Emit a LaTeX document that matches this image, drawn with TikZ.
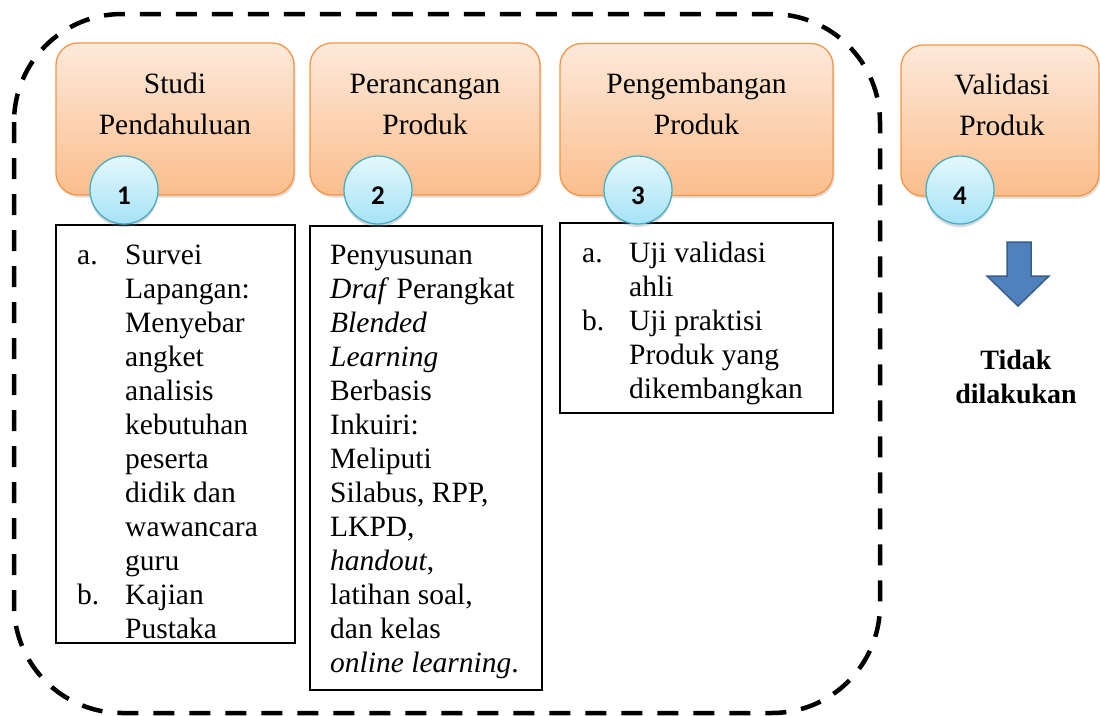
\documentclass[tikz,border=0pt]{standalone}
\usepackage{fontspec}
\setmainfont{Liberation Serif}
\newfontfamily\numfont{Carlito}
\usetikzlibrary{shadows}

\definecolor{orTop}{HTML}{FDE9DB}
\definecolor{orBot}{HTML}{FBBE8C}
\definecolor{orLine}{HTML}{F79646}
\definecolor{ciTop}{HTML}{E4F8FE}
\definecolor{ciBot}{HTML}{A6E3F6}
\definecolor{ciLine}{HTML}{4BACC6}
\definecolor{arFill}{HTML}{4F81BD}
\definecolor{arLine}{HTML}{385D8A}

\begin{document}
\begin{tikzpicture}[x=1pt,y=-1pt,
  stage/.style={draw=orLine, line width=1.3pt, rounded corners=22pt,
    top color=orTop, bottom color=orBot,
    drop shadow={opacity=0.25, shadow xshift=1.5pt, shadow yshift=-2.5pt},
    minimum height=152pt, inner sep=0pt},
  head/.style={anchor=north, align=center, inner sep=0pt,
    font=\fontsize{29.5}{41}\selectfont},
  num/.style={circle, draw=ciLine, line width=1.3pt,
    top color=ciTop, bottom color=ciBot, minimum size=68pt, inner sep=0pt,
    drop shadow={opacity=0.3, shadow xshift=0pt, shadow yshift=-3pt}},
  numtxt/.style={anchor=base, inner sep=0pt,
    font=\numfont\bfseries\fontsize{27}{30}\selectfont},
  listbox/.style={draw=black, line width=1.1pt, fill=white, inner sep=0pt,
    drop shadow={opacity=0.2, shadow xshift=1pt, shadow yshift=-1pt}},
  body/.style={anchor=north west, align=left, inner sep=0pt,
    font=\fontsize{29.5}{34}\selectfont},
  frame/.style={draw=black, line width=4.5pt, dash pattern=on 21pt off 15pt,
    rounded corners=108pt},
  blockarrow/.style={draw=arLine, line width=1.5pt, fill=arFill, line join=miter},
  note/.style={anchor=north, align=center, inner sep=0pt,
    font=\bfseries\fontsize{28}{34}\selectfont},
]
\useasboundingbox (0,0) rectangle (1100,715);
\fill[white] (0,0) rectangle (1100,715);

% dashed frame
\draw[frame] (14,14) rectangle (880,713);

% stage boxes
\node[stage, minimum width=238pt] (s1) at (175,119) {};
\node[stage, minimum width=230pt] (s2) at (425,119) {};
\node[stage, minimum width=273pt] (s3) at (696.5,119.5) {};
\node[stage, minimum width=198pt, minimum height=151pt] (s4) at (1000,120.5) {};

\node[head] (h1) at (175,64.3) {\strut Studi\\Pendahuluan};
\node[head] (h2) at (425,64.3) {\strut Perancangan\\Produk};
\node[head] (h3) at (696.5,64.3) {\strut Pengembangan\\Produk};
\node[head] (h4) at (1002,65.3) {\strut Validasi\\Produk};

% text boxes
\node[listbox, minimum width=239pt, minimum height=418pt] (tA) at (175.5,434) {};
\node[listbox, minimum width=232pt, minimum height=464pt] (tB) at (426,458) {};
\node[listbox, minimum width=273pt, minimum height=190pt] (tC) at (696.5,318) {};

\node[body] (bA) at (77,240.2) {\strut\makebox[48pt][l]{a.}Survei\\
\hspace*{48pt}Lapangan:\\
\hspace*{48pt}Menyebar\\
\hspace*{48pt}angket\\
\hspace*{48pt}analisis\\
\hspace*{48pt}kebutuhan\\
\hspace*{48pt}peserta\\
\hspace*{48pt}didik dan\\
\hspace*{48pt}wawancara\\
\hspace*{48pt}guru\\
\makebox[48pt][l]{b.}Kajian\\
\hspace*{48pt}Pustaka};

\node[body] (bB) at (330,240.2) {\strut Penyusunan\\
\textit{Draf} Perangkat\\
\textit{Blended}\\
\textit{Learning}\\
Berbasis\\
Inkuiri:\\
Meliputi\\
Silabus, RPP,\\
LKPD\textit{,}\\
\textit{handout},\\
latihan soal,\\
dan kelas\\
\textit{online learning}.};

\node[body] (bC) at (582,238.2) {\strut\makebox[47pt][l]{a.}Uji validasi\\
\hspace*{47pt}ahli\\
\makebox[47pt][l]{b.}Uji praktisi\\
\hspace*{47pt}Produk yang\\
\hspace*{47pt}dikembangkan};

% number circles
\node[num] (c1) at (124,190) {};
\node[num] (c2) at (378,190) {};
\node[num] (c3) at (638,190) {};
\node[num] (c4) at (960,190) {};
\node[numtxt] (n1) at (124,204) {1};
\node[numtxt] (n2) at (378,204) {2};
\node[numtxt] (n3) at (638,204) {3};
\node[numtxt] (n4) at (960,204) {4};

% block arrow
\draw[blockarrow] (1007,242) -- (1031,242) -- (1031,276) -- (1049,276)
  -- (1018,306) -- (987,276) -- (1007,276) -- cycle;

\node[note] (t4) at (1016,345.2) {\strut Tidak\\dilakukan};
\end{tikzpicture}
\end{document}
